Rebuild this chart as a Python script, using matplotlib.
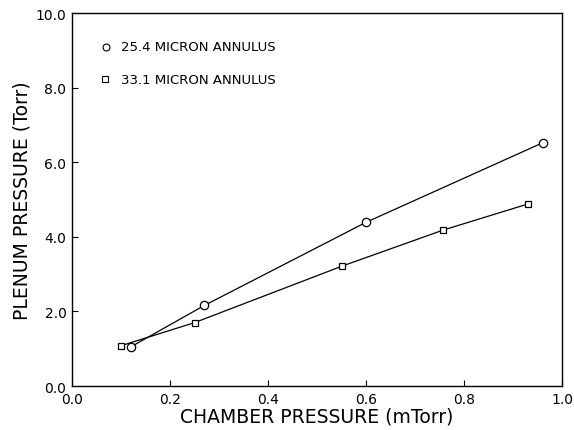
import matplotlib.pyplot as plt

# 25.4 micron annulus (circles)
x_254 = [0.12, 0.27, 0.60, 0.96]
y_254 = [1.05, 2.16, 4.39, 6.52]

# 33.1 micron annulus (squares)
x_331 = [0.10, 0.25, 0.55, 0.757, 0.93]
y_331 = [1.08, 1.70, 3.21, 4.18, 4.88]

xticks = [0.0, 0.2, 0.4, 0.6, 0.8, 1.0]
yticks = [0.0, 2.0, 4.0, 6.0, 8.0, 10.0]

fig = plt.figure(figsize=(5.74, 4.31), dpi=100)
ax = fig.add_axes([0.1254, 0.102, 0.854, 0.8655])

ax.plot(x_254, y_254, color='black', lw=0.9, marker='o', ms=6,
        mfc='white', mec='black', mew=0.9)
ax.plot(x_331, y_331, color='black', lw=0.9, marker='s', ms=5,
        mfc='white', mec='black', mew=0.9)

# legend drawn the old way, symbol + text inside the axes
ax.plot([0.07], [9.1], marker='o', ms=5, mfc='white', mec='black', mew=0.8)
ax.text(0.10, 9.1, '25.4 MICRON ANNULUS', fontsize=9.5, va='center', ha='left')
ax.plot([0.068], [8.22], marker='s', ms=4.5, mfc='white', mec='black', mew=0.8)
ax.text(0.10, 8.22, '33.1 MICRON ANNULUS', fontsize=9.5, va='center', ha='left')

ax.set_xlim(0, 1.0)
ax.set_ylim(0, 10.0)
ax.set_xticks(xticks)
ax.set_yticks(yticks)
ax.set_xticklabels(['%.1f' % v for v in xticks], fontsize=10)
ax.set_yticklabels(['%.1f' % v for v in yticks], fontsize=10)
ax.tick_params(direction='in', length=4, width=0.8, top=False, right=False, pad=4)
for s in ax.spines.values():
    s.set_linewidth(1.0)

ax.set_xlabel('CHAMBER PRESSURE (mTorr)', fontsize=13.5, labelpad=1)
ax.set_ylabel('PLENUM PRESSURE (Torr)', fontsize=13.5, labelpad=3)

fig.savefig('out.png', dpi=100)
